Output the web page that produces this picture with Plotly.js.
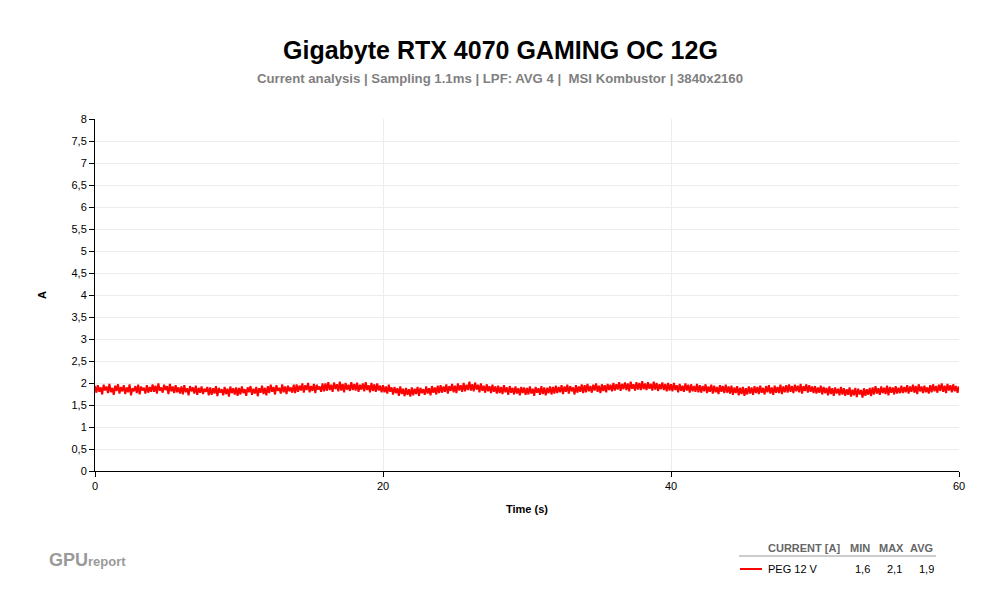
<!DOCTYPE html>
<html>
<head>
<meta charset="utf-8">
<script src="https://cdn.plot.ly/plotly-3.0.1.min.js"></script>
<style>
  html, body { margin: 0; padding: 0; background: #fff; }
  #chart { width: 1000px; height: 600px; }
</style>
</head>
<body>
<div id="chart"></div>
<script>
// PEG 12 V current (one value every 0.1 s)
const sampleStep = 0.1;
const peg12v = [
  1.93,1.78,1.95,1.80,1.90,1.74,1.96,1.83,1.92,1.77,1.98,1.79,1.89,1.73,1.94,1.82,1.97,1.76,1.91,1.81,
  1.95,1.75,1.90,1.79,1.97,1.72,1.88,1.81,1.93,1.77,1.96,1.74,1.92,1.83,1.89,1.76,1.95,1.78,1.91,1.80,
  1.97,1.80,1.94,1.76,1.99,1.82,1.90,1.78,1.96,1.84,1.93,1.75,1.98,1.81,1.92,1.77,1.95,1.79,1.90,1.76,
  1.92,1.74,1.95,1.79,1.88,1.72,1.93,1.81,1.90,1.76,1.94,1.73,1.89,1.78,1.92,1.75,1.87,1.80,1.91,1.72,
  1.90,1.73,1.88,1.76,1.93,1.70,1.89,1.78,1.86,1.72,1.91,1.75,1.87,1.69,1.92,1.77,1.88,1.74,1.90,1.71,
  1.89,1.74,1.92,1.77,1.86,1.71,1.90,1.79,1.93,1.73,1.87,1.76,1.91,1.70,1.88,1.78,1.94,1.75,1.89,1.72,
  1.93,1.77,1.96,1.80,1.91,1.74,1.95,1.82,1.89,1.76,1.97,1.79,1.92,1.75,1.94,1.81,1.90,1.78,1.96,1.77,
  1.97,1.80,1.94,1.83,1.99,1.78,1.95,1.84,2.00,1.79,1.93,1.82,1.98,1.77,1.96,1.85,1.92,1.80,1.99,1.81,
  1.99,1.82,2.02,1.84,1.96,1.80,2.01,1.86,1.97,1.81,2.03,1.83,1.98,1.79,2.00,1.85,1.96,1.82,2.02,1.84,
  1.98,1.83,2.01,1.80,1.96,1.85,1.99,1.81,2.02,1.84,1.95,1.79,2.00,1.82,1.97,1.80,1.99,1.83,1.94,1.79,
  1.95,1.79,1.92,1.76,1.96,1.80,1.90,1.74,1.91,1.77,1.88,1.71,1.92,1.75,1.87,1.70,1.89,1.73,1.86,1.69,
  1.90,1.72,1.87,1.75,1.91,1.71,1.89,1.77,1.86,1.73,1.92,1.76,1.88,1.72,1.93,1.78,1.90,1.74,1.94,1.77,
  1.95,1.78,1.92,1.80,1.97,1.76,1.93,1.82,1.98,1.79,1.94,1.77,1.99,1.83,1.95,1.80,2.00,1.81,1.96,1.84,
  2.03,1.83,1.97,1.81,2.01,1.85,1.96,1.79,1.99,1.82,1.94,1.78,1.97,1.81,1.93,1.77,1.96,1.80,1.92,1.76,
  1.94,1.77,1.91,1.75,1.95,1.79,1.90,1.73,1.93,1.78,1.89,1.74,1.92,1.76,1.88,1.72,1.91,1.77,1.90,1.73,
  1.89,1.74,1.92,1.76,1.87,1.71,1.91,1.78,1.88,1.73,1.93,1.75,1.90,1.72,1.89,1.77,1.92,1.74,1.91,1.76,
  1.94,1.77,1.91,1.79,1.95,1.75,1.92,1.80,1.96,1.76,1.93,1.81,1.90,1.74,1.95,1.78,1.92,1.80,1.97,1.77,
  1.95,1.79,1.98,1.81,1.93,1.78,1.96,1.83,1.99,1.80,1.94,1.77,1.97,1.82,1.95,1.79,1.98,1.84,1.96,1.81,
  2.00,1.83,1.97,1.85,2.02,1.82,1.98,1.86,2.01,1.84,1.99,1.81,2.03,1.87,1.97,1.83,2.02,1.85,2.00,1.84,
  2.04,1.86,1.99,1.84,2.02,1.87,1.98,1.83,2.03,1.85,2.00,1.82,1.97,1.86,2.01,1.84,1.98,1.81,2.00,1.83,
  1.97,1.81,2.00,1.84,1.95,1.79,1.98,1.82,1.94,1.80,1.99,1.83,1.96,1.78,1.97,1.81,1.93,1.80,1.98,1.79,
  1.95,1.78,1.93,1.81,1.97,1.77,1.92,1.80,1.96,1.76,1.94,1.79,1.91,1.75,1.95,1.80,1.93,1.77,1.96,1.78,
  1.92,1.76,1.94,1.73,1.90,1.77,1.93,1.72,1.89,1.75,1.91,1.71,1.88,1.74,1.92,1.76,1.90,1.73,1.93,1.77,
  1.91,1.75,1.94,1.78,1.89,1.74,1.93,1.79,1.95,1.76,1.90,1.73,1.94,1.78,1.91,1.77,1.96,1.75,1.92,1.79,
  1.95,1.78,1.97,1.80,1.93,1.77,1.96,1.81,1.94,1.79,1.98,1.76,1.93,1.82,1.97,1.78,1.95,1.80,1.92,1.77,
  1.93,1.76,1.90,1.78,1.94,1.74,1.91,1.77,1.89,1.72,1.92,1.75,1.88,1.71,1.90,1.76,1.87,1.72,1.91,1.74,
  1.88,1.71,1.86,1.73,1.90,1.69,1.85,1.72,1.89,1.68,1.87,1.74,1.84,1.67,1.88,1.71,1.86,1.73,1.89,1.70,
  1.90,1.74,1.93,1.76,1.88,1.73,1.92,1.77,1.89,1.75,1.94,1.72,1.91,1.78,1.90,1.74,1.93,1.76,1.89,1.77,
  1.94,1.77,1.91,1.79,1.95,1.76,1.92,1.80,1.96,1.78,1.93,1.75,1.97,1.81,1.92,1.77,1.94,1.79,1.90,1.76,
  1.95,1.79,1.97,1.81,1.93,1.78,1.96,1.82,1.99,1.80,1.94,1.77,1.98,1.83,1.95,1.79,1.97,1.81,1.93,1.78,
  1.92
];
const timeS = peg12v.map((_, i) => +(i * sampleStep).toFixed(1));

// legend table
const tableHeader = ["CURRENT [A]", "MIN", "MAX", "AVG"];
const seriesName = "PEG 12 V";
const seriesStats = ["1,6", "2,1", "1,9"];

const font = "Liberation Sans, Arial, sans-serif";

// plot area in pixels: x 95..959, y 119..471
const px = (x) => (x - 95) / 864;
const py = (y) => (471 - y) / 352;

function note(text, x, y, opts) {
  return Object.assign({
    text: text, xref: "paper", yref: "paper",
    x: px(x), y: py(y), showarrow: false,
    xanchor: "left", yanchor: "middle",
    font: { family: font, size: 12, color: "#000" }
  }, opts || {});
}

const trace = {
  x: timeS,
  y: peg12v,
  type: "scatter",
  mode: "lines",
  line: { color: "#ff0000", width: 2, simplify: false },
  name: seriesName,
  hoverinfo: "x+y"
};

const headX = [766, 848, 877, 908];
const statX = [853, 885, 917];
const annotations = [
  note("<b>Gigabyte RTX 4070 GAMING OC 12G</b>", 500, 50, {
    xanchor: "center", font: { family: font, size: 25, color: "#000" }
  }),
  note("<b>Current analysis | Sampling 1.1ms | LPF: AVG 4 |  MSI Kombustor | 3840x2160</b>", 500, 78, {
    xanchor: "center", font: { family: font, size: 13.2, color: "#7f7f7f" }
  }),
  note(seriesName, 766, 569, { font: { family: font, size: 11, color: "#000" } }),
  note("<b>GPU</b><span style='font-size:13px'><b>report</b></span>", 47, 560, {
    font: { family: font, size: 18, color: "#9a9a9a" }
  })
].concat(tableHeader.map((h, i) => note("<b>" + h + "</b>", headX[i], 548, {
  font: { family: font, size: 11, color: "#666" }
}))).concat(seriesStats.map((s, i) => note(s, statX[i], 569, {
  font: { family: font, size: 11, color: "#000" }
})));

const shapes = [
  { type: "line", xref: "paper", yref: "paper", x0: px(739), x1: px(936), y0: py(556), y1: py(556),
    line: { color: "#999", width: 1 } },
  { type: "line", xref: "paper", yref: "paper", x0: px(740), x1: px(762), y0: py(569), y1: py(569),
    line: { color: "#ff0000", width: 2 } }
];

const layout = {
  width: 1000,
  height: 600,
  margin: { l: 95, r: 41, t: 119, b: 129 },
  paper_bgcolor: "#fff",
  plot_bgcolor: "#fff",
  showlegend: false,
  separators: ",.",
  font: { family: font, size: 12, color: "#000" },
  xaxis: {
    range: [0, 60],
    dtick: 20,
    showline: true, linecolor: "#000", linewidth: 1,
    ticks: "outside", ticklen: 5, tickcolor: "#000",
    showgrid: true, gridcolor: "#ececec",
    zeroline: false,
    tickfont: { family: font, size: 11, color: "#000" },
    title: { text: "<b>Time (s)</b>", font: { family: font, size: 11, color: "#000" }, standoff: 14 }
  },
  yaxis: {
    range: [0, 8],
    dtick: 0.5,
    showline: true, linecolor: "#000", linewidth: 1,
    ticks: "outside", ticklen: 5, tickcolor: "#000",
    showgrid: true, gridcolor: "#ececec",
    zeroline: false,
    tickfont: { family: font, size: 11, color: "#000" },
    title: { text: "<b>A</b>", font: { family: font, size: 11, color: "#000" }, standoff: 22 }
  },
  annotations: annotations,
  shapes: shapes
};

Plotly.newPlot("chart", [trace], layout, { displayModeBar: false, staticPlot: true });
</script>
</body>
</html>
